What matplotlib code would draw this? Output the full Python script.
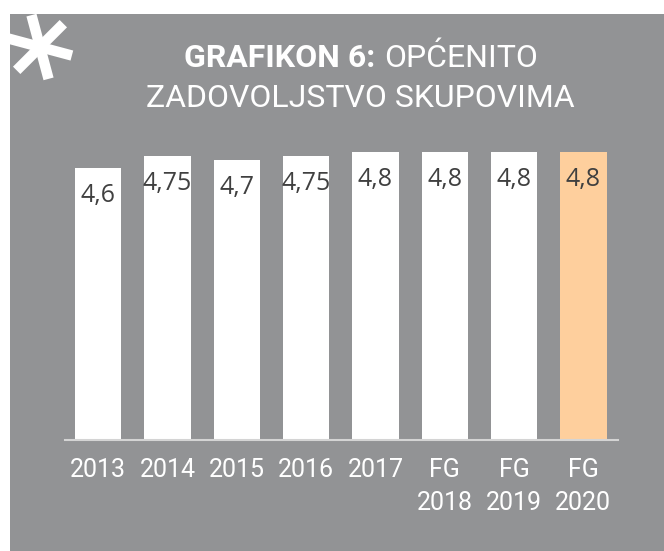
import numpy as np
import matplotlib.pyplot as plt
from matplotlib.patches import Rectangle
from matplotlib.lines import Line2D

categories = ["2013", "2014", "2015", "2016", "2017", "FG\n2018", "FG\n2019", "FG\n2020"]
values = [4.6, 4.75, 4.7, 4.75, 4.8, 4.8, 4.8, 4.8]
labels = ["4,6", "4,75", "4,7", "4,75", "4,8", "4,8", "4,8", "4,8"]

gray = "#929395"
peach = "#fecf9d"
colors = ["white"] * 7 + [peach]

W, H = 664, 551
fig = plt.figure(figsize=(W / 100, H / 100), dpi=100)
fig.patch.set_facecolor("white")

# grey panel
fig.patches.append(Rectangle((10 / W, 0), 1, 1 - 14 / H, transform=fig.transFigure,
                             facecolor=gray, edgecolor="none", zorder=-5))

# asterisk in the corner
cx, cy, r = 40, 47, 33
for ang in [75, 15, -45]:
    a = np.radians(ang)
    xs = [cx - r * np.cos(a), cx + r * np.cos(a)]
    ys = [cy - r * np.sin(a), cy + r * np.sin(a)]
    fig.lines.append(Line2D([x / W for x in xs], [1 - y / H for y in ys],
                            transform=fig.transFigure, color="white", lw=7.5,
                            solid_capstyle="butt", zorder=2))

# title
fig.text(375 / W, 1 - 67 / H, "GRAFIKON 6:", ha="right", va="baseline", color="white",
         fontsize=23, fontweight="bold", family="Roboto")
fig.text(384 / W, 1 - 67 / H, "OPĆENITO", ha="left", va="baseline", color="white",
         fontsize=23, family="Roboto")
fig.text(360 / W, 1 - 107 / H, "ZADOVOLJSTVO SKUPOVIMA", ha="center", va="baseline",
         color="white", fontsize=23, family="Roboto")

ax = fig.add_axes([65 / W, 111 / H, 553 / W, 300 / H])
ax.set_facecolor("none")
x = np.arange(len(categories))
bars = ax.bar(x, values, width=0.67, color=colors, zorder=2)
ax.set_xlim(-0.48, 7.5)
ax.set_ylim(1.2, 4.95)

for b, lab in zip(bars, labels):
    ax.annotate(lab, (b.get_x() + b.get_width() / 2, b.get_height()),
                xytext=(0, -11), textcoords="offset points", ha="center", va="top",
                fontsize=18, color="#404040", family="Open Sans", zorder=3)

for s in ["top", "left", "right"]:
    ax.spines[s].set_visible(False)
ax.spines["bottom"].set_color("#d4d4d4")
ax.spines["bottom"].set_linewidth(1.5)
ax.spines["bottom"].set_zorder(3)
ax.set_yticks([])
ax.set_xticks(x)
ax.set_xticklabels(categories, fontsize=18, color="white", family="Roboto",
                   linespacing=1.45)
ax.tick_params(axis="x", length=0, pad=13)

fig.savefig("out.png", dpi=100)
